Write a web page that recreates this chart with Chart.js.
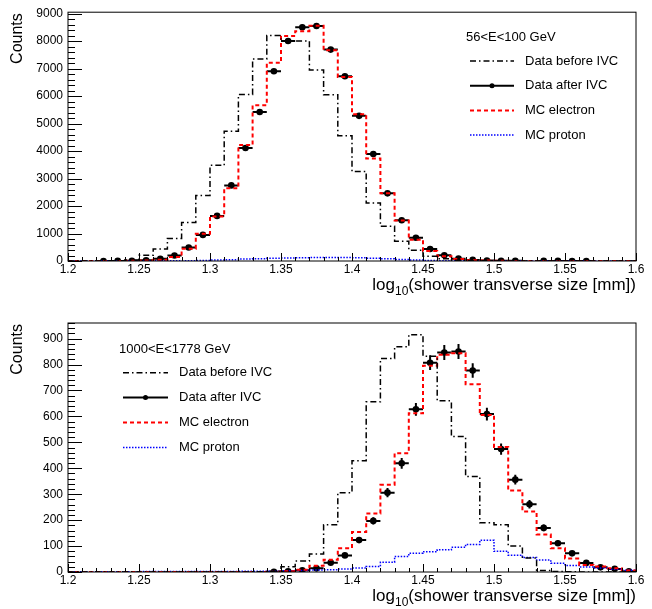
<!DOCTYPE html>
<html>
<head>
<meta charset="utf-8">
<script src="https://cdn.jsdelivr.net/npm/chart.js@4.4.1/dist/chart.umd.min.js"></script>
<style>
  html, body { margin: 0; padding: 0; background: #fff; }
  #wrap { position: relative; width: 652px; height: 609px; }
  .pane { position: absolute; left: 0; width: 652px; }
  #pTop { top: 0; height: 300px; }
  #pBot { top: 300px; height: 309px; }
</style>
</head>
<body>
<div id="wrap">
  <div class="pane" id="pTop"><canvas id="topChart"></canvas></div>
  <div class="pane" id="pBot"><canvas id="botChart"></canvas></div>
</div>
<script>
// 40 bins of log10(shower transverse size), 0.01 wide, 1.20 .. 1.60
const binLow = 1.2;
const binWidth = 0.01;
const nBins = 40;

const xTicks = [1.2, 1.25, 1.3, 1.35, 1.4, 1.45, 1.5, 1.55, 1.6];
const topYTicks = [0, 1000, 2000, 3000, 4000, 5000, 6000, 7000, 8000, 9000];
const botYTicks = [0, 100, 200, 300, 400, 500, 600, 700, 800, 900];

// 56<E<100 GeV
const topBefore = [0, 0, 0, 5, 40, 210, 440, 820, 1400, 2380,
  3480, 4720, 6060, 7350, 8200, 8000, 8000, 6950, 6050, 4560,
  3260, 2110, 1260, 720, 390, 170, 85, 30, 10, 5,
  2, 0, 0, 0, 0, 0, 0, 0, 0, 0];
const topAfter = [0, 0, 2, 3, 10, 30, 80, 200, 490, 950,
  1640, 2750, 4110, 5420, 6900, 8000, 8500, 8550, 7690, 6720,
  5280, 3890, 2460, 1480, 845, 435, 205, 85, 40, 20,
  10, 5, 0, 4, 3, 2, 2, 0, 0, 0];
const topElectron = [0, 0, 0, 0, 5, 15, 50, 145, 447, 990,
  1620, 2645, 4215, 5665, 7210, 8180, 8360, 8560, 7670, 6690,
  5340, 3730, 2460, 1470, 775, 360, 170, 70, 30, 15,
  8, 4, 2, 1, 1, 0, 0, 0, 0, 0];
const topProton = [2, 2, 2, 3, 3, 4, 5, 6, 10, 20,
  35, 50, 70, 85, 100, 110, 120, 125, 130, 125,
  115, 100, 80, 55, 35, 20, 10, 5, 2, 2,
  1, 1, 1, 1, 0, 0, 0, 0, 0, 0];

// 1000<E<1778 GeV
const botBefore = [0, 0, 0, 0, 0, 0, 0, 0, 0, 0,
  0, 0, 0, 1, 3, 20, 42, 69, 182, 306,
  429, 656, 823, 868, 915, 832, 660, 522, 368, 190,
  182, 100, 54, 6, 2, 1, 0, 0, 0, 0];
const botAfter = [0, 0, 0, 0, 0, 0, 0, 0, 0, 0,
  0, 0, 0, 0, 1, 3, 7, 14, 36, 64,
  123, 197, 306, 419, 627, 807, 846, 850, 777, 609,
  474, 356, 261, 170, 111, 72, 35, 18, 12, 3];
const botElectron = [0, 0, 0, 0, 0, 0, 0, 0, 0, 0,
  0, 0, 0, 0, 1, 3, 9, 24, 47, 92,
  154, 226, 336, 458, 612, 795, 838, 843, 724, 605,
  482, 314, 233, 145, 92, 52, 27, 21, 14, 6];
const botProton = [1, 1, 1, 1, 1, 2, 2, 2, 2, 2,
  2, 2, 3, 3, 3, 5, 6, 8, 9, 12,
  15, 21, 38, 60, 72, 78, 86, 95, 106, 122,
  80, 65, 56, 46, 34, 25, 19, 15, 11, 7];

const legendLabels = ['Data before IVC', 'Data after IVC', 'MC electron', 'MC proton'];
const FONT = "'Liberation Sans', Arial, Helvetica, sans-serif";

// step outline of a histogram
function steps(vals) {
    const pts = [];
    vals.forEach((v, i) => {
        const lo = binLow + i * binWidth;
        pts.push({ x: lo, y: v }, { x: lo + binWidth, y: v });
    });
    return pts;
}

function markers(vals) {
    const pts = [];
    vals.forEach((v, i) => {
        if (v > 0) pts.push({ x: binLow + (i + 0.5) * binWidth, y: v });
    });
    return pts;
}

const styles = [
    { color: '#000', width: 1.5, dash: [6, 3, 1.5, 3] },
    { color: '#000', width: 2, dash: [] },
    { color: '#ff0000', width: 2, dash: [4, 3] },
    { color: '#0000ff', width: 1.5, dash: [1.5, 1.5] }
];

const rootStyle = {
    id: 'rootStyle',
    beforeDatasetDraw(chart, args) {
        if (args.index !== 3) return;
        const { ctx, chartArea: a, scales: { x, y } } = chart;
        ctx.save();
        ctx.beginPath();
        ctx.rect(a.left, a.top, a.right - a.left, a.bottom - a.top);
        ctx.clip();
        ctx.strokeStyle = '#000';
        ctx.lineWidth = 2;
        chart.data.datasets[3].data.forEach(p => {
            const err = Math.sqrt(p.y);
            const px = x.getPixelForValue(p.x);
            const py = y.getPixelForValue(p.y);
            ctx.beginPath();
            ctx.moveTo(x.getPixelForValue(p.x - binWidth / 2), py);
            ctx.lineTo(x.getPixelForValue(p.x + binWidth / 2), py);
            ctx.moveTo(px, y.getPixelForValue(p.y - err));
            ctx.lineTo(px, y.getPixelForValue(p.y + err));
            ctx.stroke();
        });
        ctx.restore();
    },
    afterDraw(chart, args, opts) {
        const { ctx, chartArea: a, scales: { x, y } } = chart;
        ctx.save();
        // frame
        ctx.strokeStyle = '#000';
        ctx.lineWidth = 1;
        ctx.setLineDash([]);
        ctx.strokeRect(a.left, a.top, a.right - a.left, a.bottom - a.top);

        // inward ticks
        ctx.beginPath();
        for (let i = 0; i <= nBins; i++) {
            const px = Math.round(x.getPixelForValue(binLow + i * binWidth)) + 0.5;
            const len = i % 5 === 0 ? 8 : 4;
            ctx.moveTo(px, a.bottom);
            ctx.lineTo(px, a.bottom - len);
        }
        for (let k = 0; k * opts.yMinor <= y.max; k++) {
            const v = k * opts.yMinor;
            const py = Math.round(y.getPixelForValue(v)) + 0.5;
            const len = (v % opts.yMajor === 0) ? 14 : 7;
            ctx.moveTo(a.left, py);
            ctx.lineTo(a.left + len, py);
        }
        ctx.stroke();

        // axis titles
        ctx.fillStyle = '#000';
        ctx.font = '16px ' + FONT;
        ctx.save();
        ctx.translate(18, a.top + 1);
        ctx.rotate(-Math.PI / 2);
        ctx.textAlign = 'right';
        ctx.textBaseline = 'middle';
        ctx.fillText('Counts', 0, 0);
        ctx.restore();

        const base = a.bottom + 29;
        const t1 = 'log', t2 = '10', t3 = '(shower transverse size [mm])';
        ctx.textAlign = 'left';
        ctx.textBaseline = 'alphabetic';
        ctx.font = '17px ' + FONT;
        const w1 = ctx.measureText(t1).width, w3 = ctx.measureText(t3).width;
        ctx.font = '12px ' + FONT;
        const w2 = ctx.measureText(t2).width;
        let tx = a.right - (w1 + w2 + w3);
        ctx.font = '17px ' + FONT;
        ctx.fillText(t1, tx, base);
        tx += w1;
        ctx.font = '12px ' + FONT;
        ctx.fillText(t2, tx, base + 5);
        tx += w2;
        ctx.font = '17px ' + FONT;
        ctx.fillText(t3, tx, base);

        // legend
        const lg = opts.legend;
        ctx.font = '13px ' + FONT;
        ctx.textBaseline = 'middle';
        ctx.fillText(lg.header, lg.hx, lg.hy);
        legendLabels.forEach((label, i) => {
            const ly = lg.y0 + i * lg.dy;
            const s = styles[i];
            ctx.beginPath();
            ctx.strokeStyle = s.color;
            ctx.lineWidth = s.width;
            ctx.setLineDash(s.dash);
            ctx.moveTo(lg.x0, ly);
            ctx.lineTo(lg.x1, ly);
            ctx.stroke();
            ctx.setLineDash([]);
            if (i === 1) {
                ctx.beginPath();
                ctx.fillStyle = '#000';
                ctx.arc((lg.x0 + lg.x1) / 2, ly, 2.5, 0, Math.PI * 2);
                ctx.fill();
            }
            ctx.fillStyle = '#000';
            ctx.fillText(label, lg.tx, ly);
        });
        ctx.restore();
    }
};

function makeChart(canvasId, vals, cfg) {
    const ctx = document.getElementById(canvasId).getContext('2d');
    return new Chart(ctx, {
        type: 'line',
        data: {
            datasets: [
                { data: steps(vals.before), borderColor: styles[0].color, borderWidth: styles[0].width, borderDash: styles[0].dash },
                { data: steps(vals.electron), borderColor: styles[2].color, borderWidth: styles[2].width, borderDash: styles[2].dash },
                { data: steps(vals.proton), borderColor: styles[3].color, borderWidth: styles[3].width, borderDash: styles[3].dash },
                {
                    data: markers(vals.after), showLine: false,
                    pointRadius: 3.3, pointBackgroundColor: '#000', pointBorderColor: '#000', pointBorderWidth: 0
                }
            ]
        },
        options: {
            responsive: true,
            maintainAspectRatio: false,
            animation: false,
            events: [],
            layout: { padding: { left: 0, right: 16, top: cfg.padTop, bottom: 0 } },
            elements: {
                line: { tension: 0, fill: false },
                point: { radius: 0 }
            },
            scales: {
                x: {
                    type: 'linear',
                    min: 1.2,
                    max: 1.6,
                    grid: { display: false, drawTicks: false },
                    border: { display: false },
                    afterFit: (scale) => { scale.height = cfg.xHeight; },
                    afterBuildTicks: (scale) => { scale.ticks = xTicks.map(v => ({ value: v })); },
                    ticks: {
                        autoSkip: false,
                        maxRotation: 0,
                        padding: 1,
                        color: '#000',
                        font: { family: FONT, size: 12 },
                        callback: (v) => String(Number(v.toFixed(2)))
                    }
                },
                y: {
                    type: 'linear',
                    min: 0,
                    max: cfg.yMax,
                    grid: { display: false, drawTicks: false },
                    border: { display: false },
                    afterFit: (scale) => { scale.width = 68; },
                    afterBuildTicks: (scale) => { scale.ticks = cfg.yTicks.map(v => ({ value: v })); },
                    ticks: {
                        autoSkip: false,
                        padding: 5,
                        color: '#000',
                        font: { family: FONT, size: 12 },
                        callback: (v) => String(v)
                    }
                }
            },
            plugins: {
                legend: { display: false },
                tooltip: { enabled: false },
                rootStyle: {
                    yMajor: cfg.yMajor,
                    yMinor: cfg.yMinor,
                    legend: cfg.legend
                }
            }
        },
        plugins: [rootStyle]
    });
}

makeChart('topChart',
    { before: topBefore, after: topAfter, electron: topElectron, proton: topProton },
    {
        padTop: 11, xHeight: 39, yMax: 9050, yTicks: topYTicks, yMajor: 1000, yMinor: 200,
        legend: { header: '56<E<100 GeV', hx: 466, hy: 37, x0: 470, x1: 514, tx: 525, y0: 61, dy: 24.7 }
    });

makeChart('botChart',
    { before: botBefore, after: botAfter, electron: botElectron, proton: botProton },
    {
        padTop: 23, xHeight: 37, yMax: 960, yTicks: botYTicks, yMajor: 100, yMinor: 20,
        legend: { header: '1000<E<1778 GeV', hx: 119, hy: 49, x0: 123, x1: 168, tx: 179, y0: 72.7, dy: 24.9 }
    });
</script>
</body>
</html>
